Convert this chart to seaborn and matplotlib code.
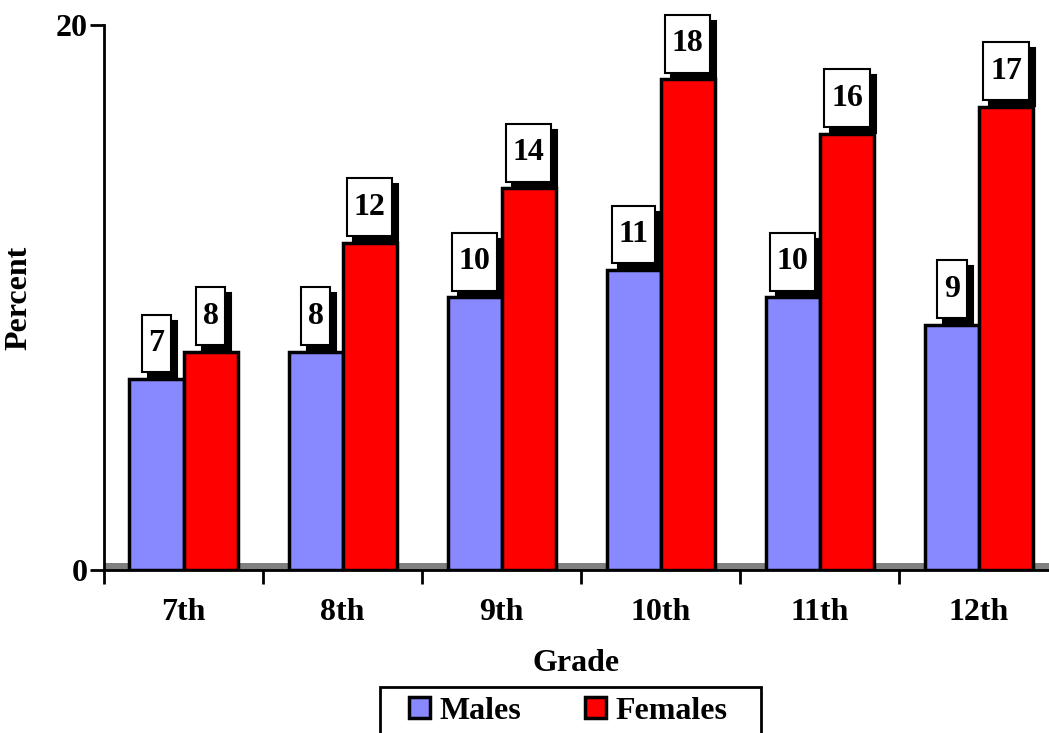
import seaborn as sns
import numpy as np
import pandas as pd
from matplotlib import pyplot as plt
from matplotlib.path import Path

grades = ["7th", "8th", "9th", "10th", "11th", "12th"]
males = [7, 8, 10, 11, 10, 9]
females = [8, 12, 14, 18, 16, 17]
groups = ["Males", "Females"]
colors = ["#8888ff", "#ff0000"]

sns.set_style("white")
plt.rcParams["font.family"] = ["Liberation Serif", "DejaVu Serif"]
plt.rcParams["font.weight"] = "bold"
plt.rcParams["axes.labelweight"] = "bold"
for k in ["text.color", "axes.labelcolor", "xtick.color", "ytick.color"]:
	plt.rcParams[k] = "black"
FS = 23

df = pd.DataFrame({
    "Grade": grades * 2,
    "Sex": [groups[0]] * len(grades) + [groups[1]] * len(grades),
    "Percent": males + females,
})


def tall_box(x0, y0, width, height, mutation_size):
	# label box: narrow side padding, tall top/bottom padding
	px = 0.21 * mutation_size
	py = 0.45 * mutation_size
	x0, y0 = x0 - px, y0 - py
	x1, y1 = x0 + width + 2 * px, y0 + height + 2 * py
	return Path([(x0, y0), (x1, y0), (x1, y1), (x0, y1), (x0, y0)], closed=True)


def wide_frame(x0, y0, width, height, mutation_size):
	# legend frame with extra room left and right
	x1 = x0 + width + 0.75 * mutation_size
	x0 = x0 - 0.6 * mutation_size
	y1 = y0 + height
	return Path([(x0, y0), (x1, y0), (x1, y1), (x0, y1), (x0, y0)], closed=True)


fig = plt.figure(figsize=(10.49, 7.33), dpi=100)
ax = fig.add_axes([0.0991, 0.2224, 0.9009, 0.7436])

sns.barplot(data=df, x="Grade", y="Percent", hue="Sex", palette=colors,
            width=0.68, edgecolor="black", linewidth=2.5, saturation=1,
            ax=ax, zorder=2)

# gray floor band behind the bars
ax.axhspan(0, 0.25, color="#808080", zorder=1, lw=0)

for cont in ax.containers:
	for bar in cont:
		xc = bar.get_x() + bar.get_width() / 2
		h = bar.get_height()
		txt = "%d" % round(h)
		ax.annotate(txt, xy=(xc, h), xytext=(4.3, 15.2 - 4.3), textcoords="offset points",
		            ha="center", va="bottom", fontsize=FS, color="black", zorder=3,
		            bbox=dict(boxstyle=tall_box, fc="black", ec="black", lw=1.5))
		ax.annotate(txt, xy=(xc, h), xytext=(0, 15.2), textcoords="offset points",
		            ha="center", va="bottom", fontsize=FS, color="black", zorder=4,
		            bbox=dict(boxstyle=tall_box, fc="white", ec="black", lw=1.5))

ax.set_ylim(0, 20)
ax.set_xlim(-0.5, 5.44)
ax.set_yticks([0, 20])
ax.set_yticklabels(["0", "20"], fontsize=FS)
ax.set_xticks(np.arange(len(grades)) - 0.5)
ax.set_xticklabels([])
ax.set_xticks(np.arange(len(grades)), minor=True)
ax.set_xticklabels(grades, minor=True, fontsize=FS)
ax.tick_params(axis="x", which="major", direction="out", length=10, width=2, color="black", bottom=True)
ax.tick_params(axis="x", which="minor", length=0, pad=20)
ax.tick_params(axis="y", direction="out", length=10, width=2, color="black", left=True, pad=2)

for s in ["top", "right"]:
	ax.spines[s].set_visible(False)
for s in ["left", "bottom"]:
	ax.spines[s].set_color("black")
	ax.spines[s].set_linewidth(2)
	ax.spines[s].set_zorder(5)

ax.set_ylabel("Percent", fontsize=FS, labelpad=16)
ax.set_xlabel("Grade", fontsize=FS, labelpad=16)

handles, labels = ax.get_legend_handles_labels()
ax.get_legend().remove()
leg = fig.legend(handles, labels, loc="upper center", bbox_to_anchor=(0.5415, 0.0627),
                 ncol=2, frameon=True, fancybox=False, edgecolor="black", framealpha=1,
                 handlelength=0.65, handleheight=0.65, columnspacing=2.0,
                 handletextpad=0.3, borderpad=0.3, borderaxespad=0, fontsize=FS)
leg.get_frame().set_linewidth(2)
leg.get_frame().set_boxstyle(wide_frame)

fig.savefig("out.png", dpi=100)
